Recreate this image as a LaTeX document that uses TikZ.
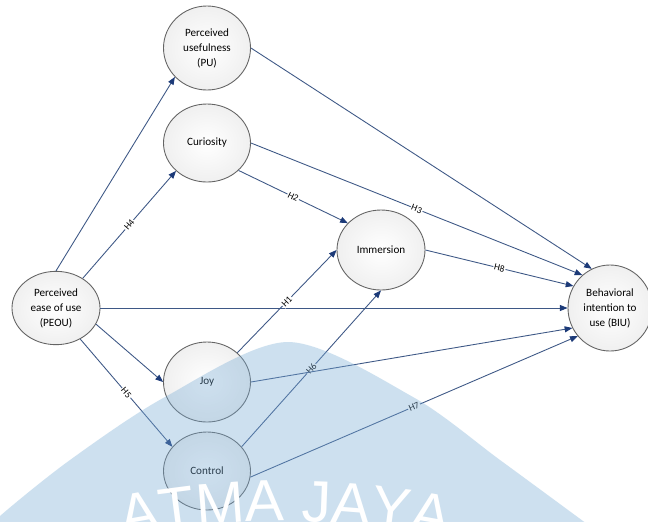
\documentclass[tikz,border=0pt]{standalone}
\usepackage{fontspec}
\setmainfont{Carlito}
\newfontfamily\markfont{Liberation Sans}
\usepackage{tikz}
\usetikzlibrary{positioning,arrows.meta,shapes.geometric,decorations.text}
\definecolor{linkcolor}{RGB}{62,88,134}
\definecolor{tipcolor}{RGB}{28,58,120}
\definecolor{rimcolor}{RGB}{100,100,100}
\definecolor{markcolor}{RGB}{118,170,212}
\tikzset{
  construct/.style={
    ellipse,
    draw=rimcolor,
    line width=0.75pt,
    inner color=white,
    outer color=black!6,
    minimum width=2.61cm,
    minimum height=2.4cm,
    inner sep=0pt,
    align=center,
    font=\fontsize{9.5}{12.8}\selectfont
  },
  link/.style={
    -{Triangle[length=2.3mm,width=1.8mm,color=tipcolor]},
    draw=linkcolor,
    line width=0.75pt
  },
  hyp/.style={
    sloped,
    fill=white,
    inner sep=0.8pt,
    font=\fontsize{8}{8}\selectfont
  }
}

\begin{document}
\begin{tikzpicture}[x=0.03cm, y=-0.03cm]

  % Frame
  \fill[white] (0,0) rectangle (648,521);
  \useasboundingbox (0,0) rectangle (648,521);

  % Constructs
  \node[construct, minimum width=2.64cm, minimum height=2.2cm] (peou) at (56,308) {Perceived\\ease of use\\(PEOU)};
  \node[construct, minimum height=2.52cm] (pu) at (207,48) {Perceived\\usefulness\\(PU)};
  \node[construct, minimum height=2.34cm] (curiosity) at (207,143) {Curiosity};
  \node[construct, minimum width=2.64cm] (immersion) at (381,250) {Immersion};
  \node[construct] (joy) at (207,382) {Joy};
  \node[construct, minimum height=2.34cm] (control) at (207,471) {Control};
  \node[construct, minimum width=2.52cm, minimum height=2.58cm] (biu) at (610,308) {Behavioral\\intention to\\use (BIU)};

  % From PEOU
  \draw[link] (peou.north) -- (pu.222);
  \draw[link] (peou.48) -- node[hyp] {H4} (curiosity.222);
  \draw[link] (peou.east) -- (biu.west);
  \draw[link] (peou.-22) -- (joy.west);
  \draw[link] (peou.-52) -- node[hyp] {H5} (control.145);

  % Into Immersion
  \draw[link] (curiosity.-41) -- node[hyp] {H2} (immersion.141);
  \draw[link] (joy.44) -- node[hyp] {H1} (immersion.west);
  \draw[link] (control.35) -- node[hyp] {H6} (immersion.south);

  % Into BIU
  \draw[link] (pu.east) -- (biu.115);
  \draw[link] (curiosity.east) -- node[hyp] {H3} (biu.130);
  \draw[link] (immersion.east) -- node[hyp] {H8} (biu.149);
  \draw[link] (joy.east) -- (biu.208);
  \draw[link] (control.-8) -- node[hyp] {H7} (biu.221);

  % Watermark
  \fill[markcolor, fill opacity=0.36] plot[smooth] coordinates
    {(-12,532) (0,516) (70,460) (165,397) (288,342) (413,397) (500,460) (583,521) (598,532)} -- cycle;
  \path[decorate, decoration={text along path, text align=center,
      text={|\markfont\fontsize{50}{50}\selectfont\color{white}|ATMA JAYA}}]
    (40,560) .. controls (190,508) and (380,508) .. (530,560);

\end{tikzpicture}
\end{document}
